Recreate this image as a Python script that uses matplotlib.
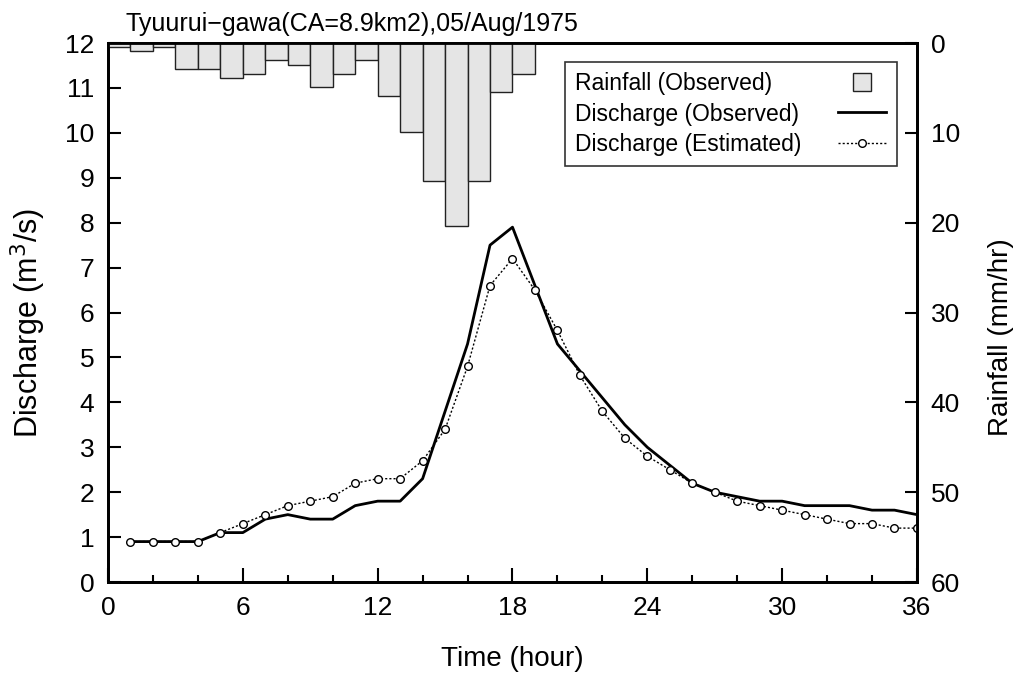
import matplotlib
matplotlib.use("Agg")
import matplotlib.pyplot as plt
from matplotlib.lines import Line2D
from matplotlib.ticker import MultipleLocator

# ------------------------------------------------------------
# Hydrograph: Tyuurui-gawa, 05/Aug/1975
# ------------------------------------------------------------

plt.rcParams["font.family"] = ["Liberation Sans", "DejaVu Sans"]

TITLE = "Tyuurui\u2212gawa(CA=8.9km2),05/Aug/1975"

# hourly rainfall (mm/hr), bar i covers hour i..i+1
rain_hours = list(range(0, 19))
rainfall = [0.4, 0.9, 0.4, 2.9, 2.9, 3.9, 3.4, 1.9, 2.4, 4.9,
            3.4, 1.9, 5.9, 9.9, 15.4, 20.4, 15.4, 5.4, 3.4]

hours = list(range(1, 37))
discharge_obs = [0.9, 0.9, 0.9, 0.9, 1.1, 1.1, 1.4, 1.5, 1.4, 1.4,
                 1.7, 1.8, 1.8, 2.3, 3.8, 5.3, 7.5, 7.9, 6.6, 5.3,
                 4.7, 4.1, 3.5, 3.0, 2.6, 2.2, 2.0, 1.9, 1.8, 1.8,
                 1.7, 1.7, 1.7, 1.6, 1.6, 1.5]
discharge_est = [0.9, 0.9, 0.9, 0.9, 1.1, 1.3, 1.5, 1.7, 1.8, 1.9,
                 2.2, 2.3, 2.3, 2.7, 3.4, 4.8, 6.6, 7.2, 6.5, 5.6,
                 4.6, 3.8, 3.2, 2.8, 2.5, 2.2, 2.0, 1.8, 1.7, 1.6,
                 1.5, 1.4, 1.3, 1.3, 1.2, 1.2]

TICK_SIZE = 19
LABEL_SIZE = 20

fig = plt.figure(figsize=(10.21, 6.73), dpi=100)
ax = fig.add_axes([0.1058, 0.1352, 0.7923, 0.8009])
ax2 = ax.twinx()

# rainfall bars hanging from the top
ax2.bar(rain_hours, rainfall, width=1.0, align="edge",
        color="#e5e5e5", edgecolor="#222222", linewidth=1.0)
ax2.set_ylim(60, 0)
ax2.yaxis.set_major_locator(MultipleLocator(10))

ax.plot(hours, discharge_obs, color="black", linewidth=2.0, zorder=3)
ax.plot(hours, discharge_est, color="black", linewidth=1.0, linestyle=(0, (1.5, 1.5)),
        marker="o", markersize=5.5, markerfacecolor="white",
        markeredgecolor="black", markeredgewidth=1.0, zorder=4)

ax.set_xlim(0, 36)
ax.set_ylim(0, 12)
ax.xaxis.set_major_locator(MultipleLocator(6))
ax.xaxis.set_minor_locator(MultipleLocator(2))
ax.yaxis.set_major_locator(MultipleLocator(1))

for a in (ax, ax2):
    for side in a.spines.values():
        side.set_linewidth(2.0)
ax.tick_params(axis="x", which="major", direction="in", length=10, width=1.5,
               labelsize=TICK_SIZE, pad=10, top=False)
ax.tick_params(axis="x", which="minor", direction="in", length=5, width=1.5, top=False)
ax.tick_params(axis="y", which="major", direction="in", length=9, width=1.5,
               labelsize=TICK_SIZE, pad=10, right=False)
ax2.tick_params(axis="y", which="major", direction="in", length=9, width=1.5,
                labelsize=TICK_SIZE, pad=10, left=False)

ax.set_xlabel("Time (hour)", fontsize=LABEL_SIZE, labelpad=19)
ax.set_ylabel(r"Discharge (m$^3$/s)", fontsize=22, labelpad=12)
ax2.set_ylabel("Rainfall (mm/hr)", fontsize=LABEL_SIZE, labelpad=20)
ax.yaxis.label.set_y(0.48)
ax2.yaxis.label.set_y(0.455)
ax.set_title(TITLE, fontsize=18, loc="left", x=0.021, pad=9)

handles = [
    Line2D([], [], linestyle="none", marker="s", markersize=13,
           markerfacecolor="#e5e5e5", markeredgecolor="#222222", markeredgewidth=1.0),
    Line2D([], [], color="black", linewidth=2.0),
    Line2D([], [], color="black", linewidth=1.0, linestyle=(0, (1.5, 1.5)),
           marker="o", markersize=5.5, markerfacecolor="white", markeredgecolor="black"),
]
labels = ["Rainfall (Observed)", "Discharge (Observed)", "Discharge (Estimated)"]
leg = ax2.legend(handles, labels, loc="upper right", bbox_to_anchor=(0.975, 0.965),
                 markerfirst=False, fontsize=16.5, frameon=True, fancybox=False,
                 edgecolor="black", handlelength=2.1, borderpad=0.45,
                 labelspacing=0.32, handletextpad=1.6, borderaxespad=0)
leg.get_frame().set_linewidth(1.2)

# left-align the legend texts (handles stay on the right)
fig.canvas.draw()
renderer = fig.canvas.get_renderer()
widths = [t.get_window_extent(renderer).width for t in leg.get_texts()]
rows = leg._legend_handle_box.get_children()[0].get_children()
for row, w in zip(rows, widths):
    row.sep += (max(widths) - w) * 72 / fig.dpi

fig.savefig("out.png", dpi=100)
